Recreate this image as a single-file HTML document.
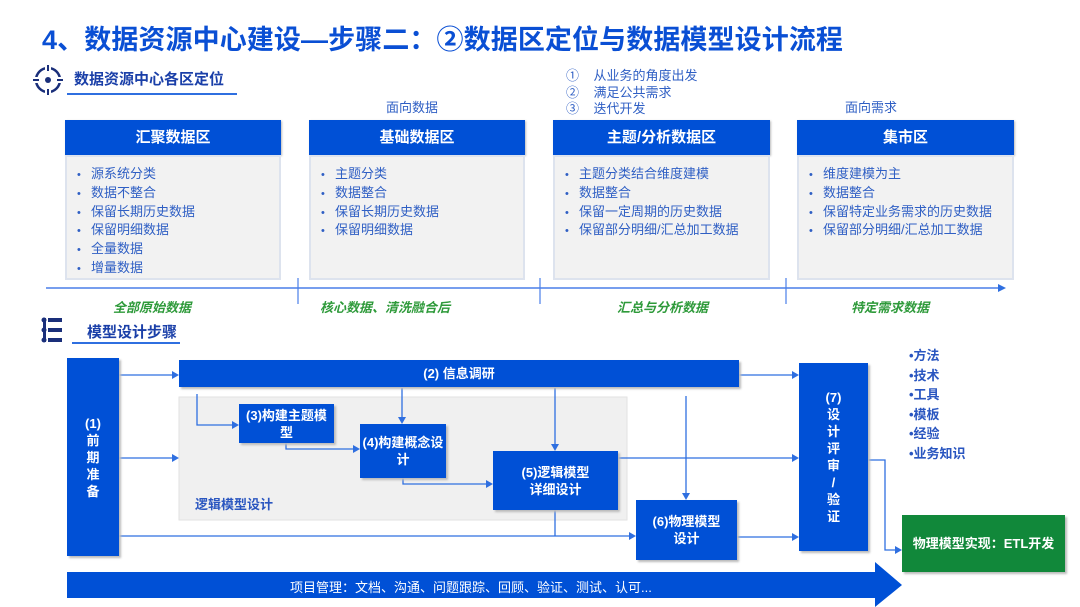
<!DOCTYPE html>
<html><head><meta charset="utf-8"><style>
*{margin:0;padding:0;box-sizing:border-box}
body{width:1080px;height:607px;background:#fff;position:relative;overflow:hidden;font-family:"Liberation Sans","Noto Sans CJK SC",sans-serif}
.a{position:absolute}
.title{left:42px;top:18px;font-size:27px;font-weight:bold;color:#0a4fd4;white-space:nowrap;letter-spacing:0.1px}
.sec{font-size:15px;font-weight:bold;color:#1a3fa8;white-space:nowrap}
.hd{background:#0050d6;color:#fff;font-weight:bold;font-size:15px;text-align:center;line-height:35px;box-shadow:1px 1px 2px #bbb}
.bd{background:#f2f2f2;border:2px solid #dde3ee;font-size:13px;color:#2f5fc4;padding:8px 0 0 10px}
.bd div{height:18.8px;line-height:18.8px;white-space:nowrap;overflow:visible}
.bd div:before{content:"•";display:inline-block;width:14px;font-size:11px;line-height:18px}
.gl{font-size:13px;font-weight:bold;font-style:italic;color:#2e9a3a;white-space:nowrap}
.bx{background:#0050d6;color:#fff;font-weight:bold;font-size:13px;text-align:center;display:flex;align-items:center;justify-content:center;line-height:17px;box-shadow:2px 2px 2px #bbb}
.sm{font-size:13px;color:#2f5fc4;white-space:nowrap}
</style></head><body>
<div class="a title">4、数据资源中心建设—步骤二：②数据区定位与数据模型设计流程</div>

<svg class="a" style="left:0;top:0" width="1080" height="607">
<circle cx="48" cy="80" r="12" fill="none" stroke="#1a2f7a" stroke-width="2.5"/>
<circle cx="48" cy="80" r="3" fill="#1a2f7a"/>
<rect x="45" y="64" width="6" height="6" fill="#fff"/><rect x="45" y="90" width="6" height="6" fill="#fff"/>
<rect x="32" y="77" width="6" height="6" fill="#fff"/><rect x="58" y="77" width="6" height="6" fill="#fff"/>
<line x1="48" y1="65" x2="48" y2="71" stroke="#1a2f7a" stroke-width="2"/><line x1="48" y1="89" x2="48" y2="95" stroke="#1a2f7a" stroke-width="2"/>
<line x1="33" y1="80" x2="39" y2="80" stroke="#1a2f7a" stroke-width="2"/><line x1="57" y1="80" x2="63" y2="80" stroke="#1a2f7a" stroke-width="2"/>
<line x1="67" y1="94" x2="237" y2="94" stroke="#2f6fe0" stroke-width="2"/>
<g fill="#1a2f7a"><rect x="43" y="318" width="3" height="24"/><circle cx="44" cy="320" r="2.5"/><circle cx="44" cy="330" r="2.5"/><circle cx="44" cy="340" r="2.5"/>
<rect x="48" y="318" width="14" height="4"/><rect x="48" y="328" width="14" height="4"/><rect x="48" y="338" width="14" height="4"/></g>
<line x1="72" y1="343" x2="180" y2="343" stroke="#2f6fe0" stroke-width="2"/>
<line x1="46" y1="288" x2="1000" y2="288" stroke="#4a7fe8" stroke-width="1.5"/>
<polygon points="1006,288 998,284 998,292" fill="#2f6fe0"/>
<line x1="298" y1="278" x2="298" y2="304" stroke="#4a7fe8" stroke-width="1.2"/>
<line x1="540" y1="278" x2="540" y2="304" stroke="#4a7fe8" stroke-width="1.2"/>
<line x1="786" y1="278" x2="786" y2="304" stroke="#4a7fe8" stroke-width="1.2"/>
<rect x="179" y="397" width="448" height="123" fill="#f0f0f0" stroke="#e2e2e2"/>
<polygon points="67,572 875,572 875,562 902,585 875,607 875,598 67,598" fill="#0050d6"/>
<g stroke="#2f6fe0" stroke-width="1.3" fill="none">
<path d="M119 375H173"/><path d="M119 458H173"/><path d="M119 536H630"/>
<path d="M197 394V425H233"/><path d="M402 388V418"/><path d="M555 388V445"/>
<path d="M686 396V494"/><path d="M739 375H793"/>
<path d="M286 443V449H354"/><path d="M403 478V484H487"/>
<path d="M555 510V536"/><path d="M618 458H793"/><path d="M737 537H793"/>
<path d="M868 460H885V550H896"/>
</g>
<g fill="#2f6fe0">
<polygon points="179,375 172,371 172,379"/><polygon points="179,458 172,454 172,462"/><polygon points="636,536 629,532 629,540"/>
<polygon points="239,425 232,421 232,429"/><polygon points="402,424 398,417 406,417"/><polygon points="555,451 551,444 559,444"/>
<polygon points="686,500 682,493 690,493"/><polygon points="799,375 792,371 792,379"/>
<polygon points="360,449 353,445 353,453"/><polygon points="493,484 486,480 486,488"/>
<polygon points="799,458 792,454 792,462"/><polygon points="799,537 792,533 792,541"/><polygon points="902,550 895,546 895,554"/>
</g>
</svg>

<div class="a sec" style="left:74px;top:68px">数据资源中心各区定位</div>
<div class="a sec" style="left:87px;top:321px">模型设计步骤</div>

<div class="a sm" style="left:386px;top:97px">面向数据</div>
<div class="a sm" style="left:845px;top:97px">面向需求</div>
<div class="a sm" style="left:566px;top:68px;line-height:16.5px">①&nbsp;&nbsp;&nbsp;&nbsp;从业务的角度出发<br>②&nbsp;&nbsp;&nbsp;&nbsp;满足公共需求<br>③&nbsp;&nbsp;&nbsp;&nbsp;迭代开发</div>

<div class="a hd" style="left:65px;top:120px;width:216px">汇聚数据区</div>
<div class="a bd" style="left:65px;top:155px;width:216px;height:125px"><div>源系统分类</div><div>数据不整合</div><div>保留长期历史数据</div><div>保留明细数据</div><div>全量数据</div><div>增量数据</div></div>
<div class="a hd" style="left:309px;top:120px;width:216px">基础数据区</div>
<div class="a bd" style="left:309px;top:155px;width:216px;height:125px"><div>主题分类</div><div>数据整合</div><div>保留长期历史数据</div><div>保留明细数据</div></div>
<div class="a hd" style="left:553px;top:120px;width:217px">主题/分析数据区</div>
<div class="a bd" style="left:553px;top:155px;width:217px;height:125px"><div>主题分类结合维度建模</div><div>数据整合</div><div>保留一定周期的历史数据</div><div>保留部分明细/汇总加工数据</div></div>
<div class="a hd" style="left:797px;top:120px;width:217px">集市区</div>
<div class="a bd" style="left:797px;top:155px;width:217px;height:125px"><div>维度建模为主</div><div>数据整合</div><div>保留特定业务需求的历史数据</div><div>保留部分明细/汇总加工数据</div></div>

<div class="a gl" style="left:113px;top:297px">全部原始数据</div>
<div class="a gl" style="left:320px;top:297px">核心数据、清洗融合后</div>
<div class="a gl" style="left:617px;top:297px">汇总与分析数据</div>
<div class="a gl" style="left:851px;top:297px">特定需求数据</div>

<div class="a bx" style="left:67px;top:358px;width:52px;height:198px">(1)<br>前<br>期<br>准<br>备</div>
<div class="a bx" style="left:179px;top:360px;width:560px;height:27px">(2) 信息调研</div>
<div class="a bx" style="left:239px;top:404px;width:95px;height:39px">(3)构建主题模<br>型</div>
<div class="a bx" style="left:360px;top:424px;width:86px;height:54px">(4)构建概念设<br>计</div>
<div class="a bx" style="left:493px;top:451px;width:125px;height:59px">(5)逻辑模型<br>详细设计</div>
<div class="a bx" style="left:636px;top:500px;width:101px;height:60px">(6)物理模型<br>设计</div>
<div class="a bx" style="left:799px;top:363px;width:69px;height:188px">(7)<br>设<br>计<br>评<br>审<br>/<br>验<br>证</div>
<div class="a bx" style="left:902px;top:515px;width:163px;height:57px;background:#11883a">物理模型实现：ETL开发</div>
<div class="a" style="left:195px;top:494px;font-size:13px;font-weight:bold;color:#2a56c0">逻辑模型设计</div>
<div class="a" style="left:909px;top:346px;font-size:13px;font-weight:bold;color:#2a56c0;line-height:19.6px">•方法<br>•技术<br>•工具<br>•模板<br>•经验<br>•业务知识</div>
<div class="a" style="left:290px;top:577px;font-size:13px;color:#fff;white-space:nowrap">项目管理：文档、沟通、问题跟踪、回顾、验证、测试、认可...</div>
</body></html>
